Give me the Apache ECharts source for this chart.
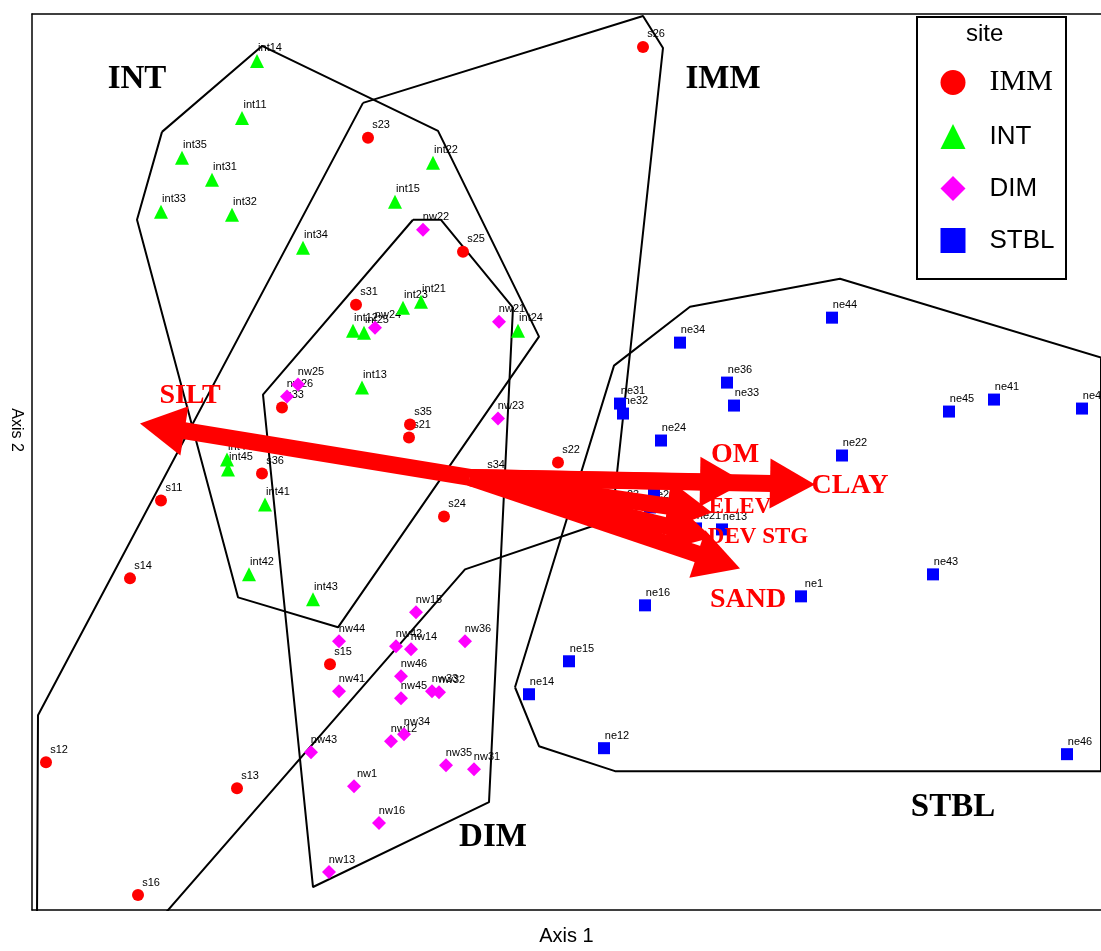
<!DOCTYPE html>
<html>
<head>
<meta charset="utf-8">
<script src="https://cdn.jsdelivr.net/npm/echarts@6/dist/echarts.min.js"></script>
<style>html,body{margin:0;padding:0;background:#fff}#c{width:1101px;height:951px}</style>
</head>
<body>
<div id="c"></div>
<script>
// Ordination scores (Axis 1 → x, Axis 2 → y, plot units)
const immPts = [
  ['s26',643,47],['s23',368,138],['s25',463,252],['s31',356,305],['s33',282,408],
  ['s35',410,425],['s21',409,438],['s36',262,474],['s22',558,463],['s34',483,478],
  ['s32',580,491],['s24',444,517],['s11',161,501],['s14',130,579],['s15',330,665],
  ['s12',46,763],['s13',237,789],['s16',138,896]
];
const intPts = [
  ['int14',257,61],['int11',242,118],['int35',182,158],['int31',212,180],['int33',161,212],
  ['int32',232,215],['int22',433,163],['int15',395,202],['int34',303,248],['int21',421,302],
  ['int23',403,308],['int12',353,331],['int25',364,333],['int24',518,331],['int13',362,388],
  ['int44',227,460],['int45',228,470],['int41',265,505],['int42',249,575],['int43',313,600]
];
const dimPts = [
  ['nw22',423,230],['nw24',375,328],['nw21',499,322],['nw25',298,385],['nw26',287,397],
  ['nw23',498,419],['nw15',416,613],['nw44',339,642],['nw42',396,647],['nw14',411,650],
  ['nw36',465,642],['nw46',401,677],['nw41',339,692],['nw45',401,699],['nw33',432,692],
  ['nw32',439,693],['nw34',404,735],['nw12',391,742],['nw43',311,753],['nw35',446,766],
  ['nw31',474,770],['nw1',354,787],['nw16',379,824],['nw13',329,873]
];
const stblPts = [
  ['ne44',832,318],['ne34',680,343],['ne36',727,383],['ne33',734,406],['ne31',620,404],
  ['ne32',623,414],['ne24',661,441],['ne22',842,456],['ne45',949,412],['ne41',994,400],
  ['ne42',1082,409],['ne25',654,493],['ne26',650,508],['ne23',614,508],['ne21',696,529],
  ['ne13',722,530],['ne43',933,575],['ne1',801,597],['ne16',645,606],['ne15',569,662],
  ['ne14',529,695],['ne12',604,749],['ne46',1067,755]
];
// Convex hulls (vertices)
const immHull  = [[363,103],[643,16],[663,48],[612,520],[465,570],[162,918],[37,918],[38,716]];
const intHull  = [[162,132],[262,46],[438,131],[539,337],[338,628],[238,598],[137,220]];
const dimHull  = [[413,220],[441,220],[513,308],[489,803],[313,888],[263,395]];
const stblHull = [[515,688],[614,366],[690,307],[840,279],[1101,358],[1101,772],[615,772],[539,747]];
// Environmental vectors: [name, x0, y0, x1, y1]
const envVectors = [
  ['SILT',470,478,140,424],
  ['OM',470,478,745,483],
  ['CLAY',470,478,815,485],
  ['ELEV',470,478,712,513],
  ['DEV STG',470,478,712,538],
  ['SAND',470,478,740,569]
];
// Vector labels: [text, x, y, fontSize]
const envLabels = [
  ['SILT',190,396,28],['OM',735,455,28],['CLAY',850,486,28],
  ['ELEV',740,508,23],['DEV STG',758,538,23],['SAND',748,600,28]
];
// Group labels: [text, x, y]
const groupLabels = [['INT',137,80],['IMM',723,80],['DIM',493,838],['STBL',953,808]];

const close = h => h.concat([h[0]]);
const toXY = arr => arr.map(p => ({value:[p[1],p[2]], name:p[0]}));
const allPts = [].concat(immPts, intPts, dimPts, stblPts);

const chart = echarts.init(document.getElementById('c'), null, {renderer:'canvas'});
const hullSeries = [immHull,intHull,dimHull,stblHull].map(h => ({
  type:'line', data: close(h), symbol:'none', z:2, silent:true,
  lineStyle:{color:'#000', width:2}, animation:false
}));
const textOnly = {color:'rgba(0,0,0,0)', opacity:1};

const option = {
  animation:false,
  grid:{left:32, right:0, top:14, bottom:40, containLabel:false},
  xAxis:[{
    type:'value', min:32, max:1101, position:'bottom',
    name:'Axis 1', nameLocation:'middle', nameGap:16,
    nameTextStyle:{fontFamily:'Liberation Sans', fontSize:20, color:'#000'},
    axisLine:{show:true, onZero:false, lineStyle:{color:'#000', width:1.5}},
    axisTick:{show:false}, axisLabel:{show:false}, splitLine:{show:false}
  },{
    type:'value', min:32, max:1101, position:'top',
    axisLine:{show:true, onZero:false, lineStyle:{color:'#000', width:1.5}},
    axisTick:{show:false}, axisLabel:{show:false}, splitLine:{show:false}
  }],
  yAxis:{
    type:'value', min:14, max:911, inverse:true,
    axisLine:{show:true, onZero:false, lineStyle:{color:'#000', width:1.5}},
    axisTick:{show:false}, axisLabel:{show:false}, splitLine:{show:false}
  },
  legend:{
    orient:'vertical', left:940.5, top:67.5, padding:0, itemWidth:25, itemHeight:25, itemGap:26,
    selectedMode:false,
    textStyle:{color:'#000', fontFamily:'Liberation Sans', fontSize:26, lineHeight:25, padding:[0,0,0,19]},
    data:[
      {name:'IMM', icon:'circle', textStyle:{fontFamily:'Liberation Serif', fontSize:30}},
      {name:'INT', icon:'triangle'},
      {name:'DIM', icon:'diamond'},
      {name:'STBL', icon:'rect'}
    ]
  },
  graphic:[
    {type:'rect', left:916, top:16, shape:{width:149, height:262}, style:{fill:'#fff', stroke:'#000', lineWidth:2}, z:0},
    {type:'text', left:966, top:22, style:{text:'site', fontFamily:'Liberation Sans', fontSize:24, fill:'#000'}, z:1},
    {type:'text', x:16, y:430, rotation:-Math.PI/2,
     style:{text:'Axis 2', fontFamily:'Liberation Sans', fontSize:16, fill:'#000', align:'center', verticalAlign:'middle'}, z:1}
  ],
  series: hullSeries.concat([
    {type:'scatter', name:'labels', data: toXY(allPts), symbolSize:0, z:1, silent:true,
     itemStyle:textOnly,
     label:{show:true, position:'top', distance:0, offset:[13,-7], formatter:p=>p.name,
            fontFamily:'Liberation Sans', fontSize:11, color:'#000', opacity:1}},
    {type:'scatter', name:'IMM', data: toXY(immPts), symbol:'circle', symbolSize:12, z:3,
     itemStyle:{color:'#ff0000', opacity:1}},
    {type:'scatter', name:'INT', data: toXY(intPts), symbol:'triangle', symbolSize:14, z:3,
     itemStyle:{color:'#00ff00', opacity:1}},
    {type:'scatter', name:'DIM', data: toXY(dimPts), symbol:'diamond', symbolSize:14, z:3,
     itemStyle:{color:'#ff00ff', opacity:1}},
    {type:'scatter', name:'STBL', data: toXY(stblPts), symbol:'rect', symbolSize:12, z:3,
     itemStyle:{color:'#0000ff', opacity:1}},
    {type:'custom', name:'vectors', z:5, silent:true,
     data: envVectors.map(v => [v[1],v[2],v[3],v[4]]),
     encode:{x:[0,2], y:[1,3]},
     renderItem:function(params, api){
       const a = api.coord([api.value(0), api.value(1)]);
       const b = api.coord([api.value(2), api.value(3)]);
       const dx = b[0]-a[0], dy = b[1]-a[1];
       const L = Math.sqrt(dx*dx+dy*dy); const ux = dx/L, uy = dy/L;
       const hl = 45, hw = 25;
       const bx = b[0]-ux*hl, by = b[1]-uy*hl;
       return {type:'group', children:[
         {type:'line', shape:{x1:a[0], y1:a[1], x2:bx+ux*2, y2:by+uy*2},
          style:{stroke:'#ff0000', lineWidth:17, lineCap:'butt'}},
         {type:'polygon', shape:{points:[[b[0],b[1]],[bx-uy*hw, by+ux*hw],[bx+uy*hw, by-ux*hw]]},
          style:{fill:'#ff0000'}}
       ]};
     }},
    {type:'scatter', name:'vecLabels', z:6, silent:true, symbolSize:0, itemStyle:textOnly,
     data: envLabels.map(l => ({value:[l[1],l[2]], name:l[0],
        label:{fontSize:l[3]}})),
     label:{show:true, position:'inside', formatter:p=>p.name, color:'#ff0000', opacity:1,
            textBorderWidth:0, fontFamily:'Liberation Serif', fontWeight:'bold'}},
    {type:'scatter', name:'groupLabels', z:6, silent:true, symbolSize:0, itemStyle:textOnly,
     data: groupLabels.map(l => ({value:[l[1],l[2]], name:l[0]})),
     label:{show:true, position:'inside', formatter:p=>p.name, color:'#000', opacity:1,
            textBorderWidth:0, fontFamily:'Liberation Serif', fontWeight:'bold', fontSize:33}}
  ])
};
chart.setOption(option);
</script>
</body>
</html>
